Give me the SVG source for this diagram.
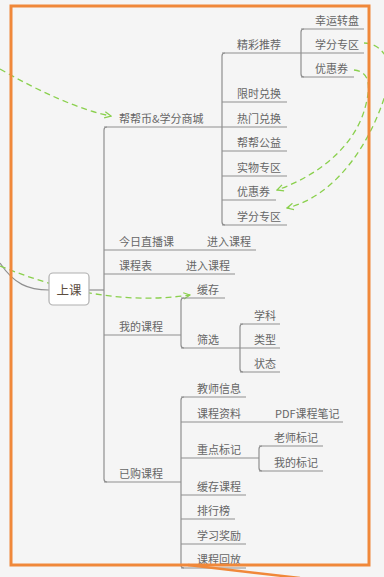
<svg xmlns="http://www.w3.org/2000/svg" width="384" height="577" viewBox="0 0 384 577">
<style>
text{font-family:"Noto Sans CJK SC","Noto Sans",sans-serif;font-size:11px;fill:#666}
.u{stroke:#8f8f8f;stroke-width:1.2;fill:none}
.t{stroke:#8f8f8f;stroke-width:1.2;fill:none}
.g{stroke:#8ad04d;stroke-width:1.3;fill:none;stroke-dasharray:6 4}
.root{font-size:12.5px;fill:#5b4c3e}
</style>
<defs>
<marker id="ah" viewBox="0 0 10 10" refX="9" refY="5" markerWidth="8" markerHeight="8" markerUnits="userSpaceOnUse" orient="auto">
<path d="M1,1 L9,5 L1,9" fill="none" stroke="#8ad04d" stroke-width="1.6"/>
</marker>
</defs>
<rect x="0" y="0" width="384" height="577" fill="#f5f5f5"/>
<path class="t" d="M0,263 C14,284 28,290 49,290" stroke="#777" stroke-width="1.5"/>
<g id="connectors">
<path class="t" d="M89,290 H104"/>
<path class="t" d="M107,127 Q104,127 104,130 V479 Q104,482 107,482"/>
<path class="t" d="M225,53 Q222,53 222,56 V222 Q222,225 225,225"/>
<path class="t" d="M304,29 Q301,29 301,32 V74 Q301,77 304,77"/>
<path class="t" d="M184,298 Q181,298 181,301 V345 Q181,348 184,348"/>
<path class="t" d="M243,324 Q240,324 240,327 V369 Q240,372 243,372"/>
<path class="t" d="M184,397 Q181,397 181,400 V565 Q181,568 184,568"/>
<path class="t" d="M262,446 Q259,446 259,449 V468 Q259,471 262,471"/>
<path class="g" d="M0,69 C40,92 80,110 111,116" marker-end="url(#ah)"/>
<path class="g" d="M0,266 C60,290 120,305 190,295" marker-end="url(#ah)"/>
<path class="g" d="M354,70 C372,72 370,90 365,108 C355,145 320,175 277,190" marker-end="url(#ah)"/>
<path class="g" d="M364,43 C380,43 395,60 388,85 C375,135 340,195 287,208" marker-end="url(#ah)"/>
</g>
<g id="n-root">
<rect x="49" y="273" width="40" height="32" rx="4" fill="#fff" stroke="#b0b0b0" stroke-width="1.2"/>
<text class="root" x="69" y="294.5" text-anchor="middle">上课</text>
</g>
<g id="n-mall"><path class="u" d="M104,127 H222"/><text x="119" y="123">帮帮币&amp;学分商城</text></g>
<g id="n-jingcai"><path class="u" d="M222,53 H301"/><text x="237" y="49">精彩推荐</text></g>
<g id="n-xingyun"><path class="u" d="M301,29 H364"/><text x="315" y="25">幸运转盘</text></g>
<g id="n-xuefen1"><path class="u" d="M301,53 H364"/><text x="315" y="49">学分专区</text></g>
<g id="n-youhui1"><path class="u" d="M301,77 H354"/><text x="315" y="73">优惠券</text></g>
<g id="n-xianshi"><path class="u" d="M222,102 H287"/><text x="237" y="98">限时兑换</text></g>
<g id="n-remen"><path class="u" d="M222,127 H287"/><text x="237" y="123">热门兑换</text></g>
<g id="n-gongyi"><path class="u" d="M222,151 H287"/><text x="237" y="147">帮帮公益</text></g>
<g id="n-shiwu"><path class="u" d="M222,176 H287"/><text x="237" y="172">实物专区</text></g>
<g id="n-youhui2"><path class="u" d="M222,200 H276"/><text x="237" y="196">优惠券</text></g>
<g id="n-xuefen2"><path class="u" d="M222,225 H287"/><text x="237" y="221">学分专区</text></g>
<g id="n-live"><path class="u" d="M104,250 H207"/><text x="119" y="246">今日直播课</text></g>
<g id="n-live-enter"><path class="u" d="M207,250 H256"/><text x="207" y="246">进入课程</text></g>
<g id="n-schedule"><path class="u" d="M104,274 H186"/><text x="119" y="270">课程表</text></g>
<g id="n-schedule-enter"><path class="u" d="M186,274 H235"/><text x="186" y="270">进入课程</text></g>
<g id="n-my"><path class="u" d="M104,335 H181"/><text x="119" y="331">我的课程</text></g>
<g id="n-cache"><path class="u" d="M181,298 H225"/><text x="197" y="294">缓存</text></g>
<g id="n-filter"><path class="u" d="M181,348 H240"/><text x="197" y="344">筛选</text></g>
<g id="n-subject"><path class="u" d="M240,324 H280"/><text x="254" y="320">学科</text></g>
<g id="n-type"><path class="u" d="M240,348 H280"/><text x="254" y="344">类型</text></g>
<g id="n-status"><path class="u" d="M240,372 H280"/><text x="254" y="368">状态</text></g>
<g id="n-bought"><path class="u" d="M104,482 H181"/><text x="119" y="478">已购课程</text></g>
<g id="n-teacher"><path class="u" d="M181,397 H246"/><text x="197" y="393">教师信息</text></g>
<g id="n-material"><path class="u" d="M181,422 H275"/><text x="197" y="418">课程资料</text></g>
<g id="n-pdf"><path class="u" d="M275,422 H343"/><text x="275" y="418">PDF课程笔记</text></g>
<g id="n-mark"><path class="u" d="M181,458 H259"/><text x="197" y="454">重点标记</text></g>
<g id="n-mark-t"><path class="u" d="M259,446 H323"/><text x="274" y="442">老师标记</text></g>
<g id="n-mark-m"><path class="u" d="M259,471 H323"/><text x="274" y="467">我的标记</text></g>
<g id="n-cachecourse"><path class="u" d="M181,495 H246"/><text x="197" y="491">缓存课程</text></g>
<g id="n-rank"><path class="u" d="M181,519 H235"/><text x="197" y="515">排行榜</text></g>
<g id="n-reward"><path class="u" d="M181,544 H246"/><text x="197" y="540">学习奖励</text></g>
<g id="n-replay"><path class="u" d="M181,568 H246"/><text x="197" y="564">课程回放</text></g>
<g id="frame">
<rect x="11" y="6" width="358" height="559" fill="none" stroke="#f0883a" stroke-width="3"/>
<path d="M188,565 L300,578" stroke="#f0883a" stroke-width="2.5" fill="none"/>
</g>
</svg>
